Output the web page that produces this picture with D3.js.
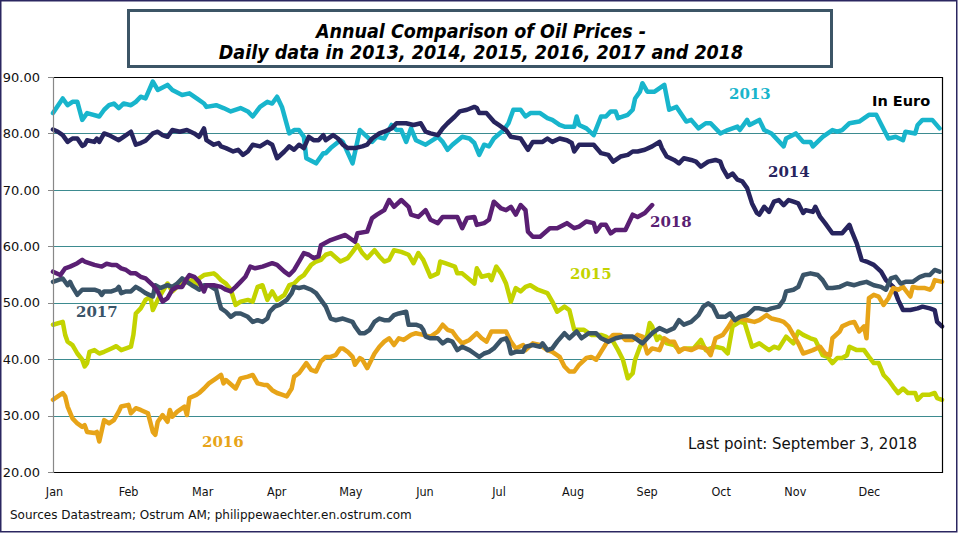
<!DOCTYPE html>
<html><head><meta charset="utf-8">
<script src="https://cdn.jsdelivr.net/npm/d3@7"></script>
<style>body{margin:0;background:#fff}svg{display:block}</style>
</head><body><svg id="c" width="959" height="534"></svg>
<script>
// ---------- data ----------
const months = ["Jan","Feb","Mar","Apr","May","Jun","Jul","Aug","Sep","Oct","Nov","Dec"];
const yTicks = [20,30,40,50,60,70,80,90];
const years = ["2013","2014","2015","2016","2017","2018"];
// [day of year, price in EUR]
const s2013 = [[0,83.6],[4,86.2],[6,85.0],[8,85.6],[10,85.6],[12,82.4],[14,83.6],[19,83.0],[21,84.2],[23,85.0],[25,85.3],[27,84.5],[29,85.3],[32,85.0],[34,85.6],[36,86.5],[38,86.2],[41,89.2],[43,87.7],[47,88.6],[49,87.7],[53,86.8],[56,87.1],[59,86.2],[62,85.3],[63,84.7],[67,85.0],[70,84.5],[73,83.9],[77,84.5],[80,83.9],[82,83.0],[85,84.7],[88,85.6],[90,85.3],[92,86.5],[94,84.7],[97,80.0],[99,80.6],[101,80.6],[103,79.4],[104,75.6],[108,74.7],[111,76.5],[112,76.5],[114,77.4],[118,78.8],[119,78.5],[123,74.7],[126,80.6],[129,79.4],[131,78.5],[133,79.4],[136,79.1],[139,81.5],[141,80.6],[143,80.6],[145,78.5],[147,80.9],[149,78.8],[153,78.0],[158,79.4],[160,78.5],[162,77.1],[164,78.0],[168,79.4],[171,79.1],[173,78.3],[175,76.2],[177,78.0],[179,77.7],[181,79.1],[185,80.6],[187,81.8],[189,84.2],[192,84.2],[194,83.0],[196,83.6],[200,83.6],[203,82.7],[205,82.4],[208,81.5],[210,81.2],[214,81.2],[215,83.0],[216,81.5],[219,80.9],[222,79.7],[225,83.0],[227,83.0],[229,83.9],[231,83.9],[232,82.7],[236,83.3],[238,84.2],[239,86.2],[241,87.4],[242,88.9],[244,87.4],[247,87.4],[251,88.6],[253,84.2],[256,84.7],[260,82.1],[262,82.4],[265,80.9],[268,81.8],[270,81.8],[274,80.0],[277,80.6],[281,81.2],[282,80.6],[285,82.4],[286,81.5],[290,82.4],[292,80.6],[295,80.0],[300,77.7],[301,79.1],[305,80.0],[308,78.5],[311,78.5],[312,77.7],[316,79.4],[320,80.6],[322,80.3],[324,80.6],[327,81.8],[331,82.1],[335,83.3],[338,83.3],[343,79.1],[346,79.4],[349,78.8],[350,80.3],[354,80.0],[355,81.5],[357,82.4],[361,82.4],[364,80.9]];
const s2014 = [[0,80.7],[2,80.3],[4,79.7],[6,78.5],[8,79.1],[10,79.1],[12,77.8],[13,78.0],[14,78.8],[17,78.5],[18,79.1],[19,78.5],[21,80.0],[23,79.7],[27,78.8],[30,79.7],[32,80.3],[34,78.0],[36,78.3],[38,78.7],[41,80.0],[43,80.3],[45,79.7],[47,79.4],[49,80.6],[52,80.3],[55,80.6],[58,80.0],[60,79.4],[62,80.9],[63,78.8],[66,78.0],[68,78.3],[69,77.7],[71,77.4],[74,76.8],[76,77.1],[78,76.2],[80,76.8],[82,78.0],[85,77.7],[88,78.5],[90,78.0],[92,75.6],[95,76.8],[97,77.7],[99,77.1],[101,78.0],[103,77.4],[105,79.4],[107,78.8],[109,78.8],[111,79.7],[112,78.8],[115,79.7],[117,79.1],[119,78.0],[121,77.4],[124,77.4],[127,77.7],[129,78.0],[131,79.1],[134,80.0],[136,80.3],[139,80.9],[141,81.8],[145,81.8],[148,81.5],[151,81.8],[153,80.3],[155,80.0],[158,79.7],[160,80.9],[162,81.8],[165,83.0],[167,83.9],[170,84.2],[173,84.7],[174,84.5],[175,83.6],[178,83.6],[181,82.1],[183,81.5],[186,80.6],[188,79.4],[192,79.1],[195,77.1],[197,78.5],[201,78.5],[203,79.1],[205,78.5],[208,79.1],[211,78.8],[213,78.3],[214,76.8],[216,78.0],[219,78.0],[222,78.0],[225,76.5],[228,76.2],[230,75.0],[233,75.9],[236,76.2],[238,76.8],[240,76.8],[243,77.1],[246,77.7],[249,78.5],[250,77.4],[252,75.9],[255,75.3],[257,74.7],[259,75.6],[262,75.3],[264,75.0],[266,74.1],[269,75.0],[272,75.3],[274,75.0],[275,73.8],[277,72.3],[279,72.9],[281,71.8],[283,71.5],[285,70.3],[287,67.6],[289,65.9],[290,65.6],[292,67.0],[294,66.1],[296,67.9],[298,68.2],[300,67.3],[302,68.2],[304,67.9],[306,67.6],[308,65.9],[309,66.4],[312,66.1],[313,67.0],[315,65.2],[317,64.1],[320,62.3],[322,62.3],[324,62.3],[327,63.8],[328,62.6],[330,60.5],[332,57.6],[334,57.3],[337,56.7],[340,55.5],[342,54.0],[345,52.8],[347,50.5],[349,48.7],[352,48.7],[355,49.0],[357,49.3],[360,49.0],[362,48.7],[363,46.6],[365,45.8]];
const s2015 = [[0,46.1],[4,46.6],[5,44.3],[6,43.1],[8,42.5],[10,41.0],[12,39.9],[13,38.7],[14,39.3],[15,41.3],[17,41.6],[19,41.0],[21,41.3],[24,41.9],[26,42.3],[28,41.6],[30,41.9],[32,42.2],[33,44.3],[34,48.1],[36,49.0],[38,50.5],[40,51.1],[41,48.7],[43,50.5],[45,52.0],[47,53.4],[49,52.0],[51,52.8],[53,53.4],[55,53.7],[57,54.0],[59,53.1],[60,54.3],[62,54.9],[66,55.2],[67,54.9],[69,54.0],[71,53.4],[73,52.3],[75,49.6],[77,50.2],[80,50.5],[82,50.2],[84,52.8],[86,53.1],[88,50.5],[90,52.0],[92,50.5],[95,51.4],[97,53.1],[99,53.4],[101,54.3],[103,54.9],[106,56.7],[108,57.3],[110,57.6],[112,58.5],[114,58.8],[118,57.3],[121,57.9],[123,59.0],[125,60.2],[127,58.8],[129,57.9],[132,59.3],[134,58.2],[136,57.3],[138,57.6],[140,59.3],[143,59.0],[146,58.5],[148,57.0],[150,58.8],[151,58.2],[152,57.6],[155,54.6],[158,55.2],[159,57.3],[161,57.0],[165,56.4],[166,55.2],[168,55.2],[173,53.4],[174,56.1],[176,54.6],[179,54.9],[180,54.0],[182,56.4],[184,55.2],[186,53.4],[188,50.2],[190,52.6],[192,52.0],[194,52.8],[196,53.1],[199,52.3],[203,51.7],[205,50.2],[207,48.4],[210,49.3],[212,48.7],[214,45.2],[218,45.2],[221,44.3],[225,44.3],[227,44.0],[230,43.1],[232,41.6],[234,39.9],[236,36.6],[238,37.5],[239,39.9],[241,42.2],[244,44.3],[245,46.4],[246,45.8],[248,43.4],[249,44.0],[252,42.8],[255,42.5],[257,41.6],[260,41.9],[263,41.9],[266,43.4],[268,41.6],[272,42.2],[275,41.9],[277,41.0],[279,45.8],[282,46.6],[284,46.4],[287,42.2],[290,42.8],[292,42.2],[294,41.6],[296,42.2],[298,41.9],[301,44.0],[304,42.8],[306,44.9],[308,44.3],[311,43.7],[313,43.4],[316,40.7],[318,40.4],[320,39.3],[322,40.2],[324,40.2],[326,40.7],[327,42.2],[330,41.6],[333,41.6],[335,40.4],[337,39.3],[339,39.3],[341,37.2],[343,36.3],[345,35.1],[347,34.0],[349,34.8],[351,34.0],[354,34.0],[355,32.8],[357,33.7],[360,33.7],[362,34.0],[363,33.1],[365,32.8]];
const s2016 = [[0,32.8],[2,33.4],[4,34.0],[5,33.4],[6,31.6],[8,29.5],[10,28.6],[12,28.0],[13,28.3],[14,27.1],[17,26.9],[18,27.1],[19,25.4],[21,29.2],[23,28.6],[25,29.2],[27,30.7],[28,31.6],[31,31.9],[32,30.4],[34,31.3],[36,31.0],[39,30.4],[41,27.1],[42,26.6],[43,28.9],[45,30.1],[47,28.9],[48,31.0],[49,29.8],[51,30.7],[54,31.6],[55,30.1],[56,33.1],[59,33.7],[60,34.0],[62,34.8],[64,35.7],[67,36.6],[69,37.2],[70,35.7],[71,36.3],[75,34.8],[77,36.6],[80,36.9],[82,37.2],[84,35.7],[87,35.4],[88,35.4],[90,34.5],[92,34.0],[94,33.7],[96,33.4],[98,34.8],[99,36.9],[101,37.5],[104,39.3],[106,38.1],[108,37.8],[110,39.6],[112,40.4],[114,40.4],[116,40.7],[118,41.9],[119,41.9],[121,41.3],[123,40.4],[124,39.0],[126,40.2],[127,39.9],[129,38.4],[132,41.0],[134,42.2],[136,43.1],[138,43.7],[140,42.5],[142,43.7],[144,43.4],[147,44.3],[149,44.6],[152,44.3],[155,44.0],[158,44.9],[160,46.1],[162,45.2],[164,44.9],[166,43.7],[168,42.8],[171,43.4],[174,44.6],[176,43.7],[178,43.1],[180,44.9],[183,44.9],[186,44.9],[188,43.1],[190,41.9],[193,42.5],[194,41.6],[197,42.8],[200,42.5],[203,41.6],[205,41.3],[208,40.4],[210,38.7],[212,37.8],[214,37.8],[216,39.0],[219,40.2],[221,40.4],[223,39.9],[225,41.3],[228,43.4],[230,44.3],[233,44.3],[235,43.4],[238,43.4],[240,44.3],[242,44.0],[244,41.0],[246,41.9],[249,41.6],[251,43.7],[253,43.1],[255,43.1],[257,41.3],[259,41.9],[262,41.6],[265,42.2],[268,41.9],[270,40.7],[272,43.7],[275,44.3],[277,45.5],[279,46.9],[282,47.2],[285,46.9],[288,46.6],[290,46.9],[293,47.8],[295,47.2],[298,46.9],[300,46.6],[302,45.8],[304,44.3],[306,42.8],[308,41.0],[310,41.3],[312,41.6],[315,42.2],[317,41.0],[319,40.7],[320,43.7],[323,44.9],[324,45.8],[327,46.4],[329,46.6],[331,44.9],[333,45.8],[334,43.7],[335,50.8],[337,51.4],[339,51.1],[341,49.6],[343,50.8],[345,52.6],[347,52.3],[349,52.8],[352,51.1],[353,52.8],[355,52.6],[358,52.6],[360,52.3],[361,52.8],[362,54.0],[365,53.7]];
const s2017 = [[0,53.7],[2,54.0],[4,54.3],[6,53.1],[7,53.7],[8,52.8],[10,51.4],[12,52.3],[14,52.3],[17,52.3],[19,52.0],[20,51.4],[21,52.0],[24,52.0],[26,52.3],[27,52.8],[28,51.7],[30,52.0],[32,52.0],[34,52.8],[36,52.3],[38,51.7],[41,51.1],[42,53.1],[44,52.6],[47,53.1],[49,52.8],[51,53.4],[53,54.3],[55,53.7],[57,53.1],[59,52.6],[60,52.3],[62,53.1],[64,53.1],[67,52.3],[68,50.5],[69,49.0],[71,48.4],[73,47.5],[75,48.1],[77,48.1],[80,47.5],[82,46.6],[84,46.9],[86,46.6],[88,47.2],[89,48.4],[91,49.3],[93,49.6],[96,50.5],[98,51.7],[99,52.8],[101,52.6],[103,52.8],[106,52.3],[108,51.7],[110,50.5],[112,49.3],[114,47.2],[116,46.9],[119,47.2],[123,46.6],[124,45.8],[126,44.6],[128,44.6],[130,45.2],[132,46.6],[134,47.2],[136,46.9],[138,46.9],[140,47.8],[142,48.1],[145,48.4],[146,46.1],[149,46.1],[151,45.8],[152,45.2],[153,44.0],[155,43.7],[158,43.7],[160,42.8],[162,43.4],[164,43.1],[166,41.6],[168,42.2],[171,41.6],[173,41.0],[175,40.4],[177,41.0],[179,41.3],[181,41.9],[184,43.4],[186,43.7],[187,42.8],[188,41.0],[190,41.3],[193,41.3],[194,42.2],[197,42.5],[200,42.2],[201,42.8],[203,41.6],[205,41.9],[207,43.1],[210,44.6],[212,43.7],[215,44.9],[217,43.7],[220,44.6],[223,44.6],[225,43.7],[228,43.1],[231,43.7],[234,44.0],[238,44.0],[240,43.4],[242,42.8],[244,43.7],[246,44.6],[249,45.5],[252,44.9],[255,45.5],[257,46.9],[259,46.1],[262,46.6],[265,47.8],[267,49.3],[269,49.9],[271,49.3],[273,47.5],[276,47.5],[278,48.1],[280,46.9],[282,47.5],[285,47.8],[288,49.0],[290,49.0],[293,48.7],[295,49.0],[298,49.3],[300,50.5],[301,52.0],[304,52.3],[306,52.8],[308,54.9],[311,55.2],[314,54.9],[316,54.0],[318,52.6],[320,52.6],[323,52.8],[326,53.4],[329,53.1],[331,53.4],[334,53.7],[337,53.1],[340,52.8],[342,52.3],[344,54.3],[346,54.6],[348,53.4],[350,53.7],[353,53.7],[356,54.6],[358,54.9],[360,54.9],[362,55.8],[364,55.5]];
const s2018 = [[0,55.5],[3,54.9],[5,56.1],[7,56.4],[10,57.0],[12,57.6],[13,57.3],[17,56.7],[20,56.4],[22,56.9],[24,56.7],[26,56.7],[28,56.1],[30,55.8],[32,55.2],[34,55.2],[36,54.6],[38,54.3],[41,53.1],[43,52.0],[45,50.2],[47,50.8],[49,52.3],[51,52.8],[53,52.8],[55,54.3],[56,54.9],[58,54.6],[60,53.7],[62,52.0],[63,53.1],[66,53.1],[69,52.8],[71,52.3],[73,52.0],[75,52.8],[77,53.7],[79,54.6],[81,56.4],[83,56.1],[86,56.4],[88,56.7],[90,57.0],[92,56.7],[95,55.5],[97,54.9],[99,55.8],[101,57.3],[103,58.8],[105,58.5],[107,57.9],[109,58.2],[110,60.2],[114,61.1],[116,61.4],[120,62.0],[124,60.8],[125,62.3],[129,62.6],[131,65.0],[133,65.6],[136,66.4],[138,68.2],[140,67.0],[143,68.2],[146,67.0],[147,65.6],[150,65.2],[153,66.4],[155,64.7],[158,64.1],[160,65.2],[166,65.2],[168,63.2],[170,65.0],[173,65.2],[174,63.8],[177,64.1],[179,64.7],[181,67.9],[184,66.7],[186,66.4],[188,67.0],[190,65.6],[192,67.3],[194,66.4],[195,62.6],[197,61.7],[200,61.7],[204,63.2],[207,63.2],[211,64.1],[214,63.2],[216,63.5],[219,64.4],[222,64.1],[223,62.6],[225,63.8],[227,63.8],[229,62.3],[231,62.9],[235,62.9],[238,65.6],[240,65.2],[243,65.9],[246,67.3]];

// ---------- layout / style ----------
const L = 53, R = 942, T = 77, B = 472;
const colors = {"2013":"#18b5cc","2014":"#27245e","2015":"#c3d300","2016":"#e7a418","2017":"#3a5468","2018":"#5a1f73"};
const seriesByYear = {"2013":s2013,"2014":s2014,"2015":s2015,"2016":s2016,"2017":s2017,"2018":s2018};

const svg = d3.select("#c");
const x = d3.scaleLinear().domain([0,365]).range([L,R]);
const y = d3.scaleLinear().domain([20,90]).range([B,T]);
const xm = d3.scaleBand().domain(months).range([L,R]).paddingInner(0).paddingOuter(0);

// outer frame
svg.append("rect").attr("x",0.75).attr("y",0.75).attr("width",956).attr("height",531)
  .attr("fill","#fff").attr("stroke","#2b2660").attr("stroke-width",1.5);

// gridlines
svg.append("g").selectAll("line").data(yTicks.filter(v=>v>20 && v<90)).join("line")
  .attr("x1",L).attr("x2",R).attr("y1",d=>Math.round(y(d))+0.5).attr("y2",d=>Math.round(y(d))+0.5)
  .attr("stroke","#3d8b90").attr("stroke-width",1);

// y labels + ticks
svg.append("g").selectAll("line").data(yTicks).join("line")
  .attr("x1",L-5).attr("x2",L).attr("y1",d=>Math.round(y(d))+0.5).attr("y2",d=>Math.round(y(d))+0.5)
  .attr("stroke","#888").attr("stroke-width",1);
svg.append("g").selectAll("text").data(yTicks).join("text")
  .attr("x",40).attr("y",d=>y(d)).attr("dy","0.36em").attr("text-anchor","end")
  .attr("font-family","DejaVu Sans, Verdana, sans-serif").attr("font-size",13).attr("fill","#111")
  .text(d=>d3.format(".2f")(d));

// x labels
svg.append("g").selectAll("text").data(months).join("text")
  .attr("x",d=>xm(d)+1.5).attr("y",496).attr("text-anchor","middle")
  .attr("font-family","DejaVu Sans Condensed, DejaVu Sans, sans-serif").attr("font-stretch","condensed")
  .attr("font-size",12.5).attr("fill","#111").text(d=>d);

// series
const line = d3.line().x(d=>x(d[0])).y(d=>y(d[1])).curve(d3.curveLinear);
svg.append("g").selectAll("path").data(years).join("path")
  .attr("d",yr=>line(seriesByYear[yr])).attr("fill","none")
  .attr("stroke",yr=>colors[yr]).attr("stroke-width",4.5)
  .attr("stroke-linejoin","round").attr("stroke-linecap","round");

// plot frame: top, right, bottom black; left grey
svg.append("path").attr("d",`M${L},${T+0.5}H${R+0.5}V${B+0.5}H${L}`)
  .attr("fill","none").attr("stroke","#000").attr("stroke-width",1.2);
svg.append("line").attr("x1",L+0.5).attr("x2",L+0.5).attr("y1",T).attr("y2",B+1)
  .attr("stroke","#888").attr("stroke-width",1.2);

// series labels
const labels = [
  {t:"2013", x:729, y:99},
  {t:"2014", x:768, y:177},
  {t:"2018", x:650, y:227},
  {t:"2015", x:570, y:279},
  {t:"2017", x:76,  y:317},
  {t:"2016", x:202, y:447}
];
svg.append("g").selectAll("text").data(labels).join("text")
  .attr("x",d=>d.x).attr("y",d=>d.y)
  .attr("font-family","DejaVu Serif, Georgia, serif").attr("font-weight","bold").attr("font-size",15)
  .attr("fill",d=>colors[d.t]).text(d=>d.t);

svg.append("text").attr("x",872).attr("y",106)
  .attr("font-family","DejaVu Sans, Verdana, sans-serif").attr("font-weight","bold").attr("font-size",14.5)
  .attr("fill","#000").text("In Euro");

svg.append("text").attr("x",688).attr("y",449)
  .attr("font-family","DejaVu Sans, Verdana, sans-serif").attr("font-size",15)
  .attr("fill","#111").text("Last point: September 3, 2018");

// title box
svg.append("rect").attr("x",128.5).attr("y",10.5).attr("width",703).attr("height",56)
  .attr("fill","#fff").attr("stroke","#3c5566").attr("stroke-width",3);
const title = ["Annual Comparison of Oil Prices -","Daily data in 2013, 2014, 2015, 2016, 2017 and 2018"];
svg.append("g").selectAll("text").data(title).join("text")
  .attr("x",481).attr("y",(d,i)=>38+i*21).attr("text-anchor","middle")
  .attr("font-family","DejaVu Sans Condensed, DejaVu Sans, sans-serif").attr("font-stretch","condensed")
  .attr("font-weight","bold").attr("font-style","italic").attr("font-size",19.5)
  .attr("fill","#000").text(d=>d);

// source
svg.append("text").attr("x",10).attr("y",519)
  .attr("font-family","DejaVu Sans, Verdana, sans-serif")
  .attr("font-size",12).attr("fill","#111")
  .text("Sources Datastream; Ostrum AM; philippewaechter.en.ostrum.com");
</script></body></html>
